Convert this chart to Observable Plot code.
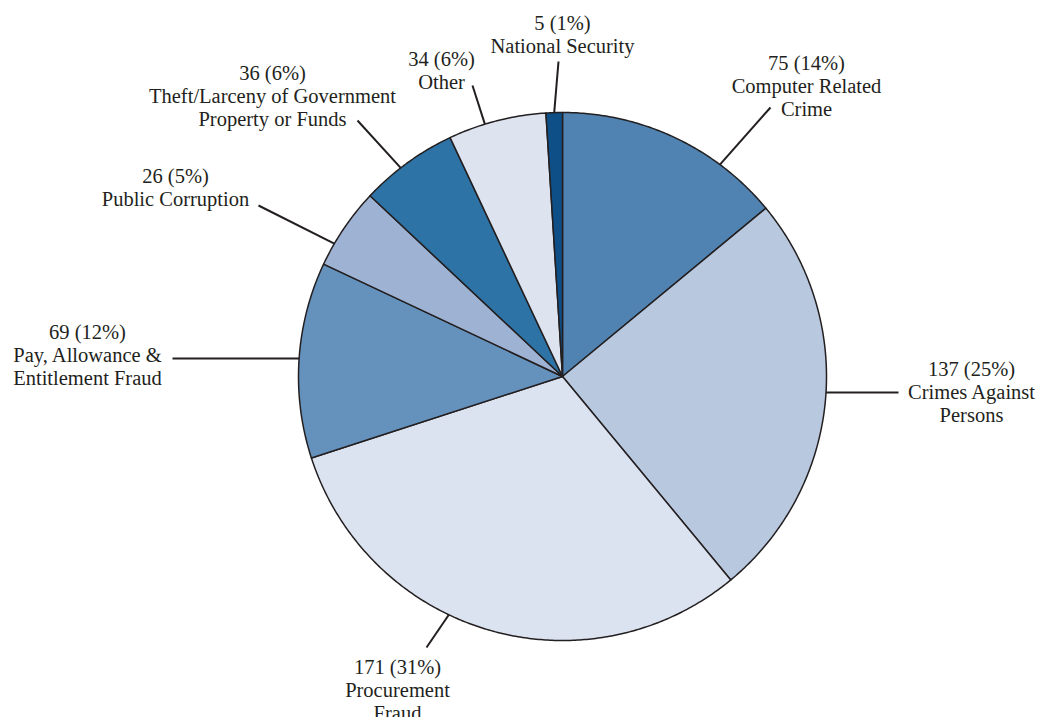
<!DOCTYPE html>
<html>
<head>
<meta charset="utf-8">
<script src="https://cdn.jsdelivr.net/npm/d3@7"></script>
<script src="https://cdn.jsdelivr.net/npm/@observablehq/plot@0.6"></script>
<style>
  html, body { margin: 0; padding: 0; background: #fff; }
  #chart svg { display: block; }
</style>
</head>
<body>
<div id="chart"></div>
<script>
// ---- Data ----
const categories = [
  "Computer Related Crime",
  "Crimes Against Persons",
  "Procurement Fraud",
  "Pay, Allowance & Entitlement Fraud",
  "Public Corruption",
  "Theft/Larceny of Government Property or Funds",
  "Other",
  "National Security"
];
const values = [75, 137, 171, 69, 26, 36, 34, 5];
const percents = [14, 25, 31, 12, 5, 6, 6, 1];
const labelLines = [
  ["Computer Related", "Crime"],
  ["Crimes Against", "Persons"],
  ["Procurement", "Fraud"],
  ["Pay, Allowance &", "Entitlement Fraud"],
  ["Public Corruption"],
  ["Theft/Larceny of Government", "Property or Funds"],
  ["Other"],
  ["National Security"]
];
const colors = ["#5083b2", "#b8c8df", "#dce3f0", "#6591bd", "#9eb3d3", "#2e73a6", "#dde4f0", "#0e4f88"];

// ---- Layout (pixel space) ----
const W = 1049, H = 717;
const cx = 562, cy = 376, R = 264;
// leader: angle (deg clockwise from top) where it touches the pie, outer end, label block center
const leaderAngle = [36.6, 93.5, 205.5, 273.9, 300.2, 322.2, 342.9, 358.2];
const leaderEnd = [[770, 107], [898, 392], [426, 647], [172, 358], [258, 205], [357, 120], [472, 85], [558, 61]];
const labelPos = [[806, 85], [971, 391], [397, 689], [87, 354], [175, 187], [272, 95], [441, 70], [562, 34]];

// slices are drawn from the shares (percent labels), as in the source chart
const totalPct = d3.sum(percents);
const toXY = (deg, r) => {
  const a = deg * Math.PI / 180;
  return [cx + r * Math.sin(a), cy - r * Math.cos(a)];
};

const slicePts = [];
let start = 0;
categories.forEach((c, i) => {
  const sweep = percents[i] / totalPct * 360;
  const end = start + sweep;
  slicePts.push({name: c, x: cx, y: cy});
  const n = Math.max(2, Math.ceil(sweep / 0.5));
  for (let k = 0; k <= n; k++) {
    const [x, y] = toXY(start + sweep * k / n, R);
    slicePts.push({name: c, x, y});
  }
  start = end;
});

const leaders = categories.map((c, i) => {
  const [x1, y1] = toXY(leaderAngle[i], R);
  return {name: c, x1, y1, x2: leaderEnd[i][0], y2: leaderEnd[i][1]};
});

const labels = categories.map((c, i) => ({
  name: c,
  x: labelPos[i][0],
  y: labelPos[i][1],
  text: [`${values[i]} (${percents[i]}%)`, ...labelLines[i]].join("\n")
}));

const FS = 20.5;
const chart = Plot.plot({
  width: W,
  height: H,
  margin: 0,
  x: {domain: [0, W], range: [0, W], axis: null},
  y: {domain: [0, H], range: [0, H], axis: null},
  color: {domain: categories, range: colors},
  style: {fontFamily: "'Liberation Serif', serif", background: "#fff"},
  marks: [
    Plot.line(slicePts, {x: "x", y: "y", z: "name", fill: "name", stroke: "#231f20", strokeWidth: 1.5, curve: "linear-closed", strokeLinejoin: "round"}),
    Plot.link(leaders, {x1: "x1", y1: "y1", x2: "x2", y2: "y2", stroke: "#231f20", strokeWidth: 2}),
    Plot.text(labels, {x: "x", y: "y", text: "text", fill: "#231f20", fontSize: FS, lineHeight: 23 / FS, lineAnchor: "middle", textAnchor: "middle"})
  ]
});
document.getElementById("chart").appendChild(chart);
</script>
</body>
</html>
